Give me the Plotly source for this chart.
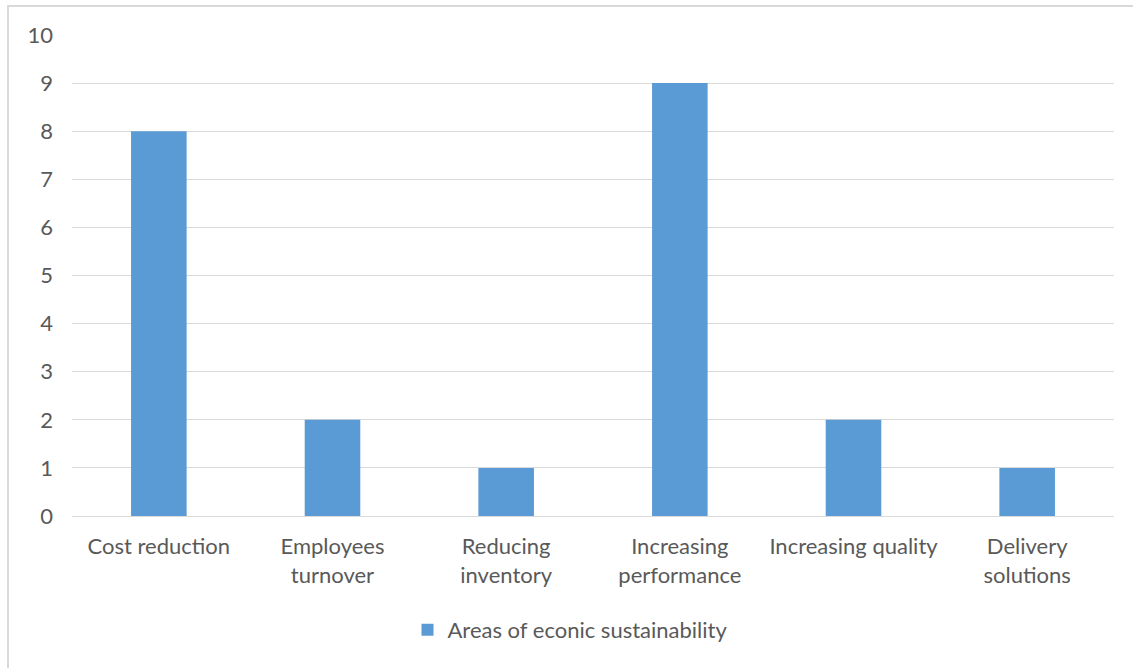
import plotly.graph_objects as go

categories = ["Cost reduction", "Employees<br>turnover", "Reducing<br>inventory",
              "Increasing<br>performance", "Increasing quality", "Delivery<br>solutions"]
values = [8, 2, 1, 9, 2, 1]
series_name = "Areas of econic sustainability"
y_ticks = list(range(0, 11))

W, H = 1133, 668
L, R, T, B = 72, 19, 35, 152
pw, ph = W - L - R, H - T - B

def px_x(p):
    return (p - L) / pw

def px_y(p):
    return (H - B - p) / ph

fig = go.Figure()
fig.add_trace(go.Bar(
    x=categories, y=values, name=series_name,
    marker=dict(color="#5b9bd5", line=dict(width=0)),
    width=0.32, showlegend=True,
))

font = dict(family="Lato, Open Sans, sans-serif", size=22, color="#595959")

fig.update_layout(
    width=W, height=H,
    margin=dict(l=L, r=R, t=T, b=B),
    paper_bgcolor="white", plot_bgcolor="white",
    font=font,
    xaxis=dict(showgrid=False, showline=True, linecolor="#d9d9d9", linewidth=1,
               ticks="", tickfont=font, ticklabelstandoff=11),
    yaxis=dict(range=[0, 10], tickvals=y_ticks, showgrid=True, gridcolor="#d9d9d9",
               gridwidth=1, zeroline=False, showline=False, ticks="",
               tickfont=font, ticklabelstandoff=18),
    legend=dict(orientation="h", x=px_x(570), xanchor="center", y=px_y(630),
                yanchor="middle", font=font, itemwidth=30),
    shapes=[dict(type="rect", xref="paper", yref="paper",
                 x0=px_x(8), x1=px_x(W + 20), y0=px_y(H + 20), y1=px_y(6),
                 line=dict(color="#d9d9d9", width=2), fillcolor="rgba(0,0,0,0)",
                 layer="below")],
    bargap=0.68,
)

fig.write_html("out.html")
